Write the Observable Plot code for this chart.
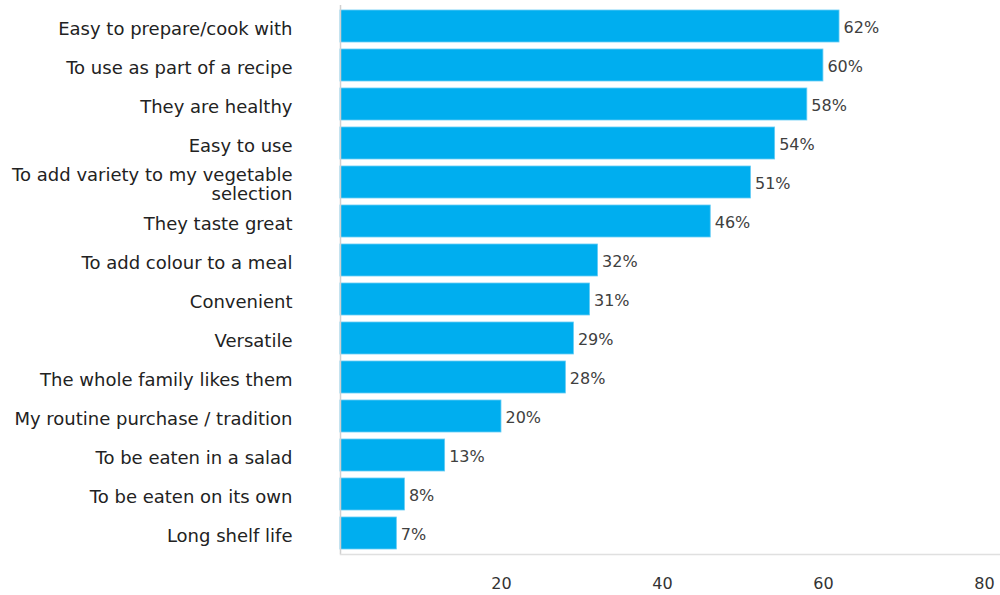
<!DOCTYPE html>
<html>
<head>
<meta charset="utf-8">
<script src="https://cdn.jsdelivr.net/npm/d3@7"></script>
<script src="https://cdn.jsdelivr.net/npm/@observablehq/plot@0.6"></script>
<style>
  html, body { margin: 0; padding: 0; background: #fff; }
  #chart svg { display: block; }
</style>
</head>
<body>
<div id="chart"></div>
<script>
const categories = [
  "Easy to prepare/cook with",
  "To use as part of a recipe",
  "They are healthy",
  "Easy to use",
  "To add variety to my vegetable\nselection",
  "They taste great",
  "To add colour to a meal",
  "Convenient",
  "Versatile",
  "The whole family likes them",
  "My routine purchase / tradition",
  "To be eaten in a salad",
  "To be eaten on its own",
  "Long shelf life"
];
const values = [62, 60, 58, 54, 51, 46, 32, 31, 29, 28, 20, 13, 8, 7];
const xTicks = [20, 40, 60, 80];

const data = categories.map((c, i) => ({category: c, value: values[i]}));

const chart = Plot.plot({
  width: 1000,
  height: 595,
  marginLeft: 340,
  marginRight: 0,
  marginTop: 5,
  marginBottom: 41,
  style: {fontFamily: "DejaVu Sans, Verdana, sans-serif", fontSize: "16px", color: "#333"},
  x: {domain: [0, 82], ticks: xTicks},
  y: {domain: categories, paddingInner: 0.18, paddingOuter: 0.1},
  marks: [
    Plot.barX(data, {x: "value", y: "category", fill: "#00AEEF", stroke: "#66CCF4", strokeWidth: 0.8}),
    Plot.text(data, {x: "value", y: "category", text: d => d.value + "%", textAnchor: "start", dx: 4, dy: 1, fill: "#404040", fontSize: 16}),
    Plot.ruleX([0], {stroke: "#d0d0d0", strokeWidth: 1.5}),
    Plot.frame({anchor: "bottom", stroke: "#e0e0e0", strokeWidth: 1.5}),
    Plot.axisX({ticks: xTicks, tickSize: 0, tickPadding: 23, fontSize: 16, fill: "#333", label: null}),
    Plot.axisY({tickSize: 0, tickPadding: 48, fontSize: 18, lineHeight: 1.05, dy: 2, fill: "#222", label: null})
  ]
});
document.getElementById("chart").appendChild(chart);
</script>
</body>
</html>
